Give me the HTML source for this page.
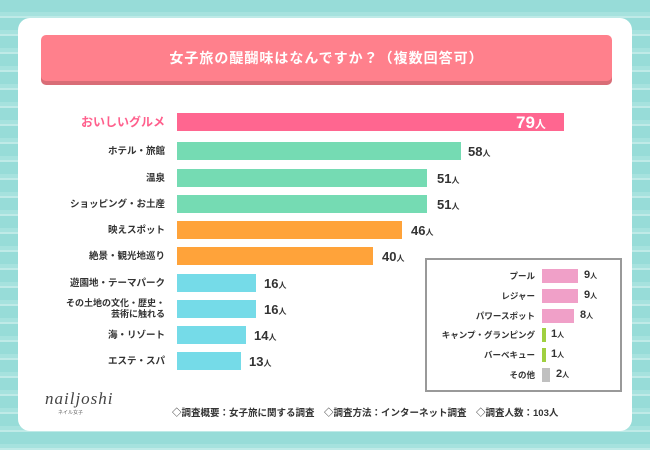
<!DOCTYPE html>
<html><head><meta charset="utf-8"><style>
body{margin:0;width:650px;height:450px;overflow:hidden;font-family:"Liberation Sans","Noto Sans CJK JP",sans-serif;
background:repeating-linear-gradient(180deg,#97dcd8 0 12px,#a6e2de 12px 16px,#bfeae7 16px 18px);position:relative}
.card{position:absolute;left:18px;top:18px;width:614px;height:413px;background:#fff;border-radius:12px}
.ttl{position:absolute;left:41px;top:35px;width:571px;height:46px;background:#ff808c;border-radius:5px;box-shadow:0 4px 0 #d96d77;color:#fff;font-weight:bold;font-size:14px;text-align:center;line-height:46px;letter-spacing:1px}
.lab{position:absolute;right:485px;font-size:9.5px;font-weight:bold;color:#333;text-align:right;white-space:nowrap;line-height:11px}
.bar{position:absolute;left:177px;height:18px}
.val{position:absolute;font-weight:bold;font-size:13px;color:#333}
.val small{font-size:8px}
.box{position:absolute;left:425px;top:258px;width:193px;height:130px;border:2px solid #999;background:#fff}
.il{position:absolute;right:115px;font-size:8.5px;font-weight:bold;color:#333;white-space:nowrap}
.ib{position:absolute;height:14px}
.iv{position:absolute;font-size:11px;font-weight:bold;color:#333}
.iv small{font-size:7px}
</style></head><body>
<div class="card"></div>
<div class="ttl">女子旅の醍醐味はなんですか？（複数回答可）</div>

<div class="lab" style="top:116px;color:#ff5f8c;font-size:12px;line-height:13px">おいしいグルメ</div>
<div class="bar" style="top:113px;width:387px;background:#ff6690"></div>
<div class="val" style="left:516px;top:113px;color:#fff;font-size:17px">79<small style="font-size:11px">人</small></div>

<div class="lab" style="top:146px">ホテル・旅館</div>
<div class="bar" style="top:142px;width:284px;background:#75dbb3"></div>
<div class="val" style="left:468px;top:144px">58<small>人</small></div>

<div class="lab" style="top:173px">温泉</div>
<div class="bar" style="top:169px;width:250px;background:#75dbb3"></div>
<div class="val" style="left:437px;top:171px">51<small>人</small></div>

<div class="lab" style="top:199px">ショッピング・お土産</div>
<div class="bar" style="top:195px;width:250px;background:#75dbb3"></div>
<div class="val" style="left:437px;top:197px">51<small>人</small></div>

<div class="lab" style="top:225px">映えスポット</div>
<div class="bar" style="top:221px;width:225px;background:#ffa33a"></div>
<div class="val" style="left:411px;top:223px">46<small>人</small></div>

<div class="lab" style="top:251px">絶景・観光地巡り</div>
<div class="bar" style="top:247px;width:196px;background:#ffa33a"></div>
<div class="val" style="left:382px;top:249px">40<small>人</small></div>

<div class="lab" style="top:278px">遊園地・テーマパーク</div>
<div class="bar" style="top:274px;width:79px;background:#75dbe8"></div>
<div class="val" style="left:264px;top:276px">16<small>人</small></div>

<div class="lab" style="top:298px;font-size:9px">その土地の文化・歴史・<br>芸術に触れる</div>
<div class="bar" style="top:300px;width:79px;background:#75dbe8"></div>
<div class="val" style="left:264px;top:302px">16<small>人</small></div>

<div class="lab" style="top:330px">海・リゾート</div>
<div class="bar" style="top:326px;width:69px;background:#75dbe8"></div>
<div class="val" style="left:254px;top:328px">14<small>人</small></div>

<div class="lab" style="top:356px">エステ・スパ</div>
<div class="bar" style="top:352px;width:64px;background:#75dbe8"></div>
<div class="val" style="left:249px;top:354px">13<small>人</small></div>

<div class="box"></div>
<div class="il" style="top:270px">プール</div><div class="ib" style="left:542px;top:269px;width:36px;background:#f0a0c8"></div><div class="iv" style="left:584px;top:269px">9<small>人</small></div>
<div class="il" style="top:290px">レジャー</div><div class="ib" style="left:542px;top:289px;width:36px;background:#f0a0c8"></div><div class="iv" style="left:584px;top:289px">9<small>人</small></div>
<div class="il" style="top:310px">パワースポット</div><div class="ib" style="left:542px;top:309px;width:32px;background:#f0a0c8"></div><div class="iv" style="left:580px;top:309px">8<small>人</small></div>
<div class="il" style="top:329px">キャンプ・グランピング</div><div class="ib" style="left:542px;top:328px;width:4px;background:#a0d040"></div><div class="iv" style="left:551px;top:328px">1<small>人</small></div>
<div class="il" style="top:349px">バーベキュー</div><div class="ib" style="left:542px;top:348px;width:4px;background:#a0d040"></div><div class="iv" style="left:551px;top:348px">1<small>人</small></div>
<div class="il" style="top:369px">その他</div><div class="ib" style="left:542px;top:368px;width:8px;background:#c0c0c0"></div><div class="iv" style="left:556px;top:368px">2<small>人</small></div>

<div style="position:absolute;left:45px;top:389px;font-family:'Liberation Serif',serif;font-style:italic;font-size:17px;color:#444;letter-spacing:1px">nailjoshi</div>
<div style="position:absolute;left:58px;top:409px;font-size:5px;color:#666">ネイル女子</div>
<div style="position:absolute;left:172px;top:405px;font-size:9.5px;font-weight:bold;color:#333;white-space:nowrap">◇調査概要：女子旅に関する調査　◇調査方法：インターネット調査　◇調査人数：103人</div>
</body></html>
